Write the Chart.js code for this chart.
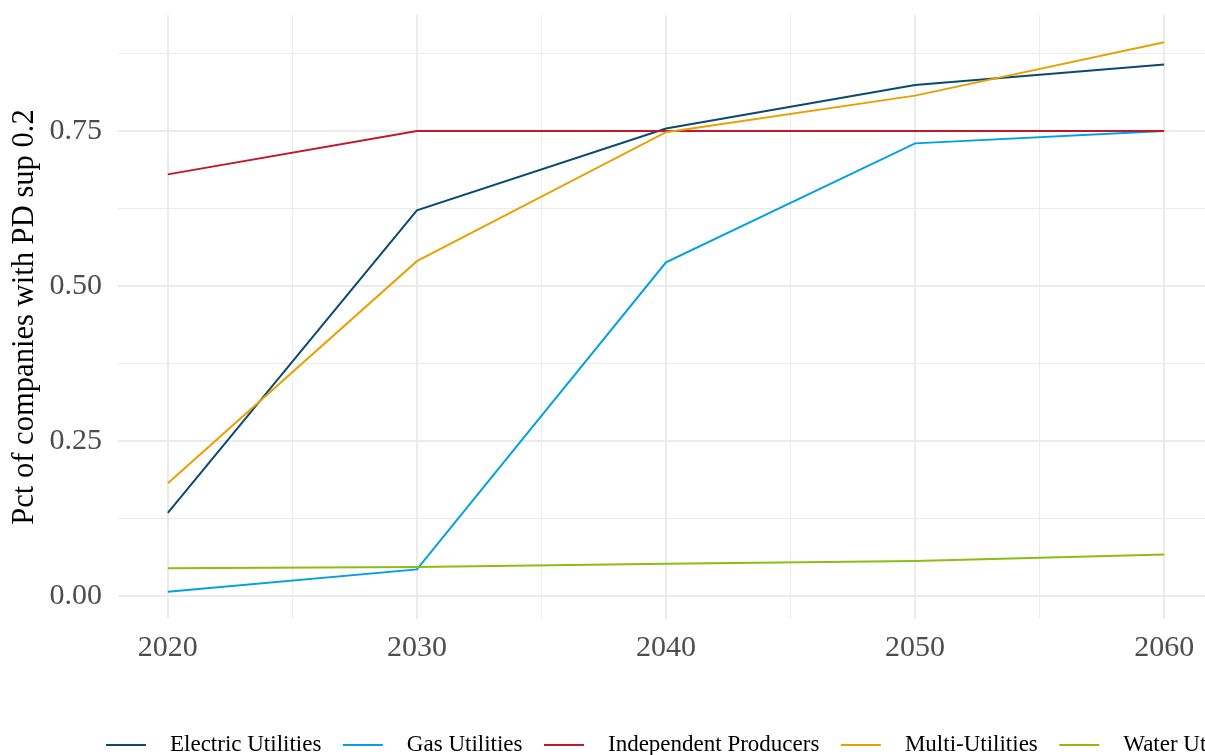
<!DOCTYPE html>
<html><head><meta charset="utf-8">
<script src="https://cdn.jsdelivr.net/npm/chart.js@4.4.1/dist/chart.umd.min.js"></script>
<style>html,body{margin:0;padding:0;overflow:hidden;background:#fff}#wrap{position:relative;width:1225px;height:755px}</style>
</head><body><div id="wrap"><canvas id="c"></canvas></div>
<script>
const years = [2020, 2030, 2040, 2050, 2060];
const seriesNames = ['Electric Utilities', 'Gas Utilities', 'Independent Producers', 'Multi-Utilities', 'Water Utilities'];
const electric = [0.134, 0.622, 0.754, 0.824, 0.857];
const gas = [0.007, 0.043, 0.538, 0.730, 0.750];
const independent = [0.680, 0.750, 0.750, 0.750, 0.750];
const multi = [0.182, 0.540, 0.748, 0.807, 0.893];
const water = [0.045, 0.047, 0.052, 0.0565, 0.067];
const seriesColors = ['#0B4A6F', '#00A0E2', '#C0172B', '#E6A102', '#8CBD10'];
const xGridValues = [2020, 2025, 2030, 2035, 2040, 2045, 2050, 2055, 2060];
const xTickValues = [2020, 2030, 2040, 2050, 2060];
const xTickLabels = ['2020', '2030', '2040', '2050', '2060'];
const yGridValues = [0, 0.125, 0.25, 0.375, 0.5, 0.625, 0.75, 0.875];
const yTickValues = [0, 0.25, 0.5, 0.75];
const yTickLabels = ['0.00', '0.25', '0.50', '0.75'];
const yTitle = 'Pct of companies with PD sup 0.2';

const allSeries = [electric, gas, independent, multi, water];
const FONT = '"Liberation Serif", "Times New Roman", serif';

function isNear(a, b) { return Math.abs(a - b) < 1e-6; }
function labelFor(v, vals, labels) {
  for (let i = 0; i < vals.length; i++) if (isNear(v, vals[i])) return labels[i];
  return '';
}

const datasets = allSeries.map((vals, i) => ({
  label: seriesNames[i],
  data: years.map((yr, j) => ({ x: yr, y: vals[j] })),
  borderColor: seriesColors[i],
  backgroundColor: seriesColors[i],
  borderWidth: 2,
  pointRadius: 0,
  tension: 0,
  fill: false,
  order: allSeries.length - i
}));

const legendPlugin = {
  id: 'ggLegend',
  afterDraw(chart) {
    const ctx = chart.ctx;
    ctx.save();
    ctx.font = '23px ' + FONT;
    ctx.textBaseline = 'middle';
    ctx.textAlign = 'left';
    let x = 106;
    const y = 745;
    chart.data.datasets.forEach(ds => {
      ctx.strokeStyle = ds.borderColor;
      ctx.lineWidth = 2;
      ctx.beginPath(); ctx.moveTo(x, y); ctx.lineTo(x + 40, y); ctx.stroke();
      x += 64;
      ctx.fillStyle = '#000';
      ctx.fillText(ds.label, x, y);
      x += ctx.measureText(ds.label).width + 21.5;
    });
    ctx.restore();
  }
};

new Chart(document.getElementById('c'), {
  type: 'line',
  data: { datasets },
  plugins: [legendPlugin],
  options: {
    responsive: true,
    maintainAspectRatio: false,
    animation: false,
    layout: { padding: { left: 0, right: 11, top: 15, bottom: 0 } },
    plugins: { legend: { display: false }, tooltip: { enabled: false } },
    scales: {
      x: {
        type: 'linear',
        min: 2018,
        max: 2062,
        afterBuildTicks: s => { s.ticks = xGridValues.map(v => ({ value: v })); },
        afterFit: s => { s.height = 136; s.paddingLeft = 0; s.paddingRight = 0; },
        border: { display: false },
        grid: {
          color: '#EBEBEB',
          lineWidth: c => (xTickValues.some(v => isNear(v, c.tick.value)) ? 2 : 1),
          drawTicks: false
        },
        ticks: {
          autoSkip: false,
          maxRotation: 0,
          padding: 11,
          color: '#4D4D4D',
          font: { family: FONT, size: 30 },
          callback: v => labelFor(v, xTickValues, xTickLabels)
        }
      },
      y: {
        type: 'linear',
        min: -0.037,
        max: 0.937,
        afterBuildTicks: s => { s.ticks = yGridValues.map(v => ({ value: v })); },
        afterFit: s => { s.width = 118; s.paddingTop = 0; s.paddingBottom = 0; },
        border: { display: false },
        grid: {
          color: '#EBEBEB',
          lineWidth: c => (yTickValues.some(v => isNear(v, c.tick.value)) ? 2 : 1),
          drawTicks: false
        },
        ticks: {
          autoSkip: false,
          padding: 16,
          color: '#4D4D4D',
          font: { family: FONT, size: 30 },
          callback: v => labelFor(v, yTickValues, yTickLabels)
        },
        title: {
          display: true,
          text: yTitle,
          color: '#000',
          padding: { top: 7, bottom: 0 },
          font: { family: FONT, size: 30.6, lineHeight: 1.2 }
        }
      }
    }
  }
});
</script>
</body></html>
